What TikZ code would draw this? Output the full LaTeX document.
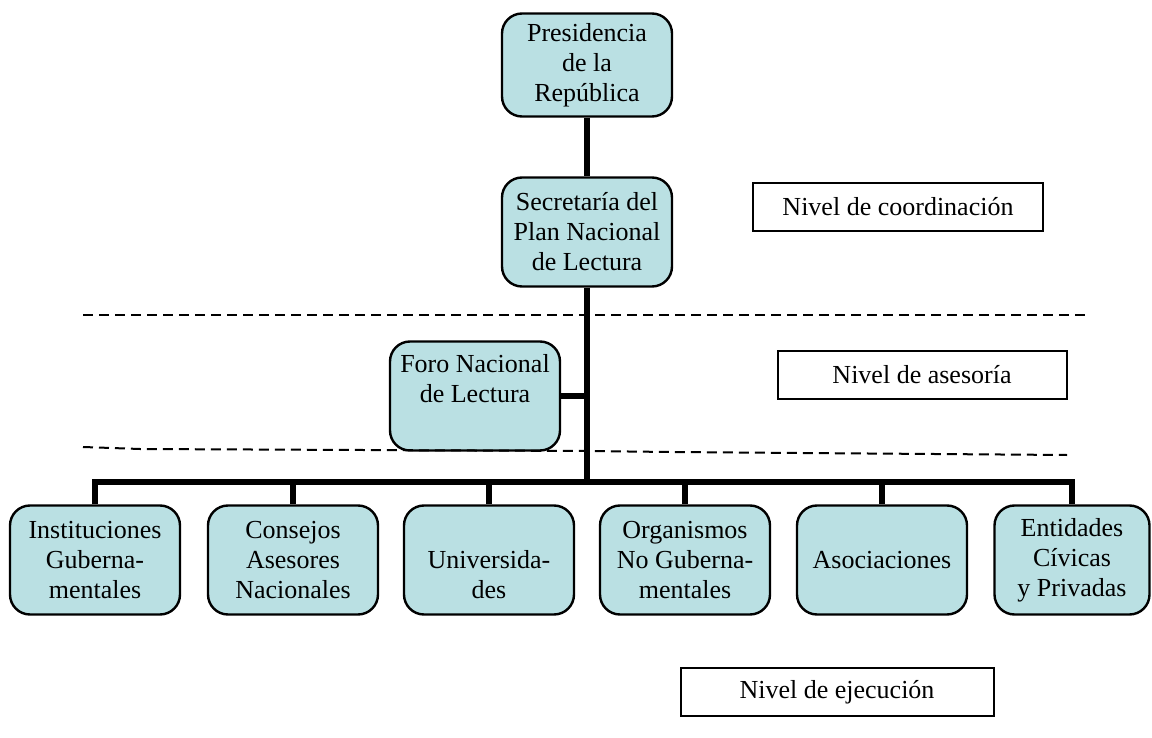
\documentclass[tikz,border=0pt]{standalone}
\usepackage{fontspec}
\setmainfont{Liberation Serif}
\definecolor{boxfill}{RGB}{186,224,227}

\begin{document}
\begin{tikzpicture}[x=0.5pt,y=-0.5pt]
                            \tikzset{module/.style={draw, shape=rectangle, rounded corners=10pt, line width=1.2pt, fill=boxfill,
                                        minimum width=85pt, minimum height=54.5pt, inner sep=1pt, align=center,
                                        font=\fontsize{13}{15}\selectfont},
                                     level/.style={draw, shape=rectangle, line width=1pt, minimum height=24pt,
                                        font=\fontsize{13}{15}\selectfont},
                                     link/.style={line width=3pt},
                                     border/.style={line width=1pt, dash pattern=on 5pt off 3pt}}
                            \useasboundingbox (0,0) rectangle (1152,738);

                            \node[module, minimum height=51.5pt] (pres) at (587,65){Presidencia\\de la\\República};
                            \node[module] (sec) at (587,232){Secretaría del\\Plan Nacional\\de Lectura};
                            \node[module] (foro) at (475,396){Foro Nacional\\de Lectura\\\vphantom{Lg}};
                            \node[module] (inst) at (95,560){Instituciones\\Guberna-\\mentales};
                            \node[module] (cons) at (293,560){Consejos\\Asesores\\Nacionales};
                            \node[module] (univ) at (489,560){\vphantom{Ig}\\Universida-\\des};
                            \node[module] (org) at (685,560){Organismos\\No Guberna-\\mentales};
                            \node[module] (asoc) at (882,560){Asociaciones};
                            \node[module, minimum width=77.5pt] (priv) at (1072,560){Entidades\\Cívicas\\y Privadas};

                            \node[level, minimum width=145pt] (coord) at (898,207){Nivel de coordinación};
                            \node[level, minimum width=144.5pt] (ases) at (922,375){Nivel de asesoría};
                            \node[level, minimum width=156.5pt] (ejec) at (837,692){Nivel de ejecución};

                            \coordinate (bus) at (587,482);

                            \draw[border] (83,315) -- (1085,315);
                            \draw[border] (83,447) -- (140,449) -- (587,451) -- (670,452) -- (1067,455);

                            \draw[link] (pres) -- (sec)
                                (sec) -- (bus)
                                (foro) -- (foro -| bus)
                                (inst) -- (inst |- bus) -- (priv |- bus) -- (priv);
                            \foreach \n in {cons, univ, org, asoc}
                                \draw[link] (\n |- bus) -- (\n);
                        \end{tikzpicture}
\end{document}
